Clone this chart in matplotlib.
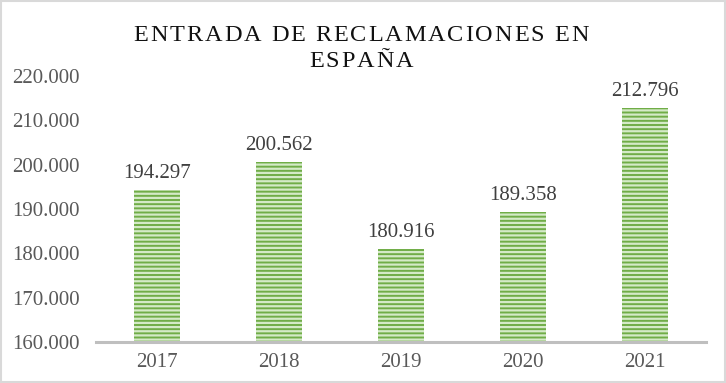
import matplotlib.pyplot as plt
from matplotlib.ticker import FuncFormatter
from matplotlib.font_manager import FontProperties

years = ['2017', '2018', '2019', '2020', '2021']
claims = [194297, 200562, 180916, 189358, 212796]
y_ticks = [160000, 170000, 180000, 190000, 200000, 210000, 220000]
title_lines = ['ENTRADA DE RECLAMACIONES EN', 'ESPAÑA']

W, H = 726, 383


def dot_thousands(v, pos=None):
    return f"{int(v):,}".replace(',', '.')


plt.rcParams['font.family'] = ['Liberation Serif', 'DejaVu Serif']
plt.rcParams['hatch.linewidth'] = 1.6

fig = plt.figure(figsize=(W / 100, H / 100), dpi=100)
# light grey frame round the whole chart
fig.patches.append(plt.Rectangle((0.002, 0.003), 0.996, 0.994, transform=fig.transFigure,
                                 fill=False, edgecolor='#d9d9d9', linewidth=1.5))

ax = fig.add_axes([96 / W, 1 - 342 / H, 610 / W, 266 / H])
bars = ax.bar(years, claims, width=0.38, color='#70ad47', edgecolor='#d4eac7',
              linewidth=0, hatch='----')

for b, v in zip(bars, claims):
    ax.annotate(dot_thousands(v), (b.get_x() + b.get_width() / 2, v),
                xytext=(0, 5), textcoords='offset points', ha='center', va='bottom',
                fontsize=15, color='#404040')

ax.set_ylim(160000, 220000)
ax.set_xlim(-0.5, 4.5)
ax.set_yticks(y_ticks)
ax.yaxis.set_major_formatter(FuncFormatter(dot_thousands))
ax.tick_params(axis='both', length=0, labelsize=15, labelcolor='#595959')
ax.tick_params(axis='y', pad=12)
ax.tick_params(axis='x', pad=8)

for s in ['top', 'right', 'left']:
    ax.spines[s].set_visible(False)
ax.spines['bottom'].set_color('#bfbfbf')
ax.spines['bottom'].set_linewidth(2.2)

# title with wide letter spacing: place each character by hand
renderer = fig.canvas.get_renderer()
prop = FontProperties(family='Liberation Serif', size=17.5)


def text_w(s):
    return renderer.get_text_width_height_descent(s, prop, ismath=False)[0]


def char_w(c):
    if c == ' ':
        return text_w('a a') - text_w('aa')
    return text_w(c)


first = [char_w(c) for c in title_lines[0]]
tracking = (455 - sum(first)) / (len(first) - 1)

for line, baseline in zip(title_lines, [41, 67]):
    widths = [char_w(c) for c in line]
    total = sum(widths) + tracking * (len(line) - 1)
    x = 361 - total / 2
    for c, w in zip(line, widths):
        if c != ' ':
            fig.text(x / W, 1 - baseline / H, c, fontproperties=prop,
                     color='#111111', ha='left', va='baseline')
        x += w + tracking

fig.savefig('out.png', dpi=100)
